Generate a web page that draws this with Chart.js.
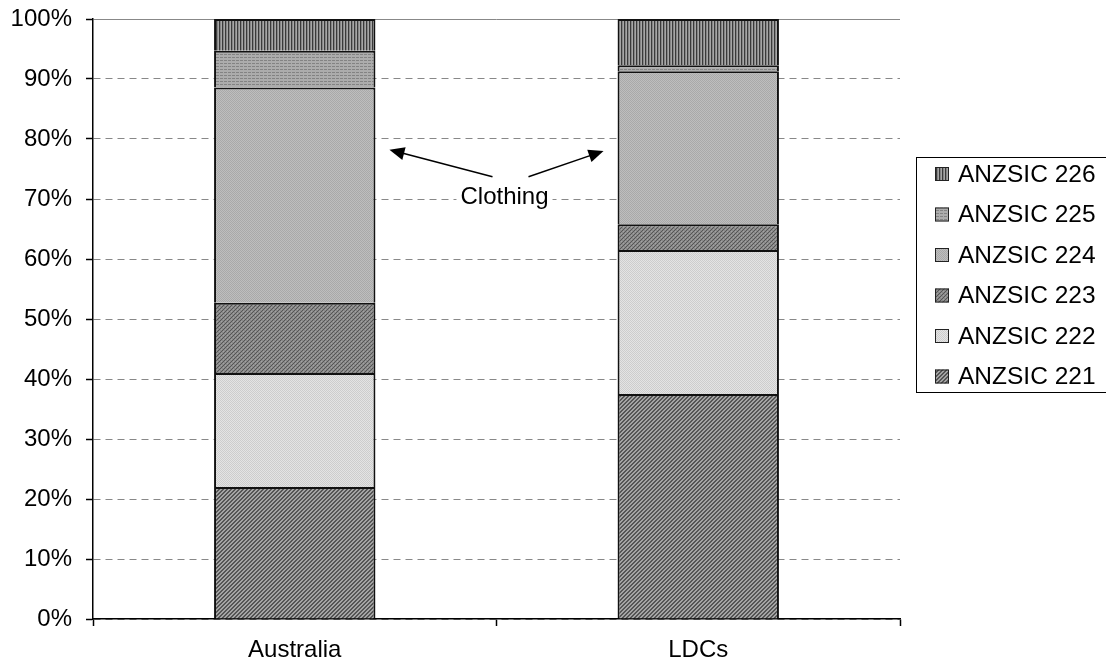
<!DOCTYPE html>
<html>
<head>
<meta charset="utf-8">
<script src="https://cdn.jsdelivr.net/npm/chart.js@4/dist/chart.umd.min.js"></script>
<style>
  html, body { margin: 0; padding: 0; background: #fff; }
  canvas { display: block; }
</style>
</head>
<body>
<canvas id="shareChart" width="1106" height="667"></canvas>
<script>
// data (share of output, %)
const categories = ["Australia", "LDCs"];
const seriesLabels = ["ANZSIC 221", "ANZSIC 222", "ANZSIC 223", "ANZSIC 224", "ANZSIC 225", "ANZSIC 226"];
const anzsic221 = [22.0, 37.5];
const anzsic222 = [19.0, 24.0];
const anzsic223 = [11.7, 4.3];
const anzsic224 = [35.9, 25.5];
const anzsic225 = [6.1, 1.0];
const anzsic226 = [5.3, 7.7];
const yMin = 0, yMax = 100, yStep = 10;
const noteText = "Clothing";
const noteValue = 78; // where the arrows point

const FONT = "'Liberation Sans', Arial, sans-serif";

function makePattern(w, h, paint) {
    const c = document.createElement("canvas");
    c.width = w;
    c.height = h;
    const g = c.getContext("2d");
    paint(g);
    return g.createPattern(c, "repeat");
}

// grey fill patterns like the old excel ones
const patterns = [
    makePattern(4, 4, g => { // 221 diagonal
        g.fillStyle = "#a4a4a4"; g.fillRect(0, 0, 4, 4);
        g.fillStyle = "#555";
        for (let i = 0; i < 4; i++) { g.fillRect(i, 3 - i, 1, 1); g.fillRect(i, (4 - i) % 4, 1, 1); }
    }),
    makePattern(2, 2, g => { // 222 light dots
        g.fillStyle = "#e4e4e4"; g.fillRect(0, 0, 2, 2);
        g.fillStyle = "#cdcdcd"; g.fillRect(0, 0, 1, 1); g.fillRect(1, 1, 1, 1);
    }),
    makePattern(4, 4, g => { // 223 dark weave
        g.fillStyle = "#8a8a8a"; g.fillRect(0, 0, 4, 4);
        g.fillStyle = "#555";
        g.fillRect(0, 0, 1, 1); g.fillRect(2, 2, 1, 1); g.fillRect(1, 3, 1, 1); g.fillRect(3, 1, 1, 1);
        g.fillStyle = "#a2a2a2"; g.fillRect(1, 1, 1, 1); g.fillRect(3, 3, 1, 1);
    }),
    makePattern(2, 2, g => { // 224 grey dots
        g.fillStyle = "#bebebe"; g.fillRect(0, 0, 2, 2);
        g.fillStyle = "#a9a9a9"; g.fillRect(0, 0, 1, 1); g.fillRect(1, 1, 1, 1);
    }),
    makePattern(4, 3, g => { // 225 horizontal dashes
        g.fillStyle = "#acacac"; g.fillRect(0, 0, 4, 3);
        g.fillStyle = "#838383"; g.fillRect(0, 0, 3, 1);
    }),
    makePattern(3, 1, g => { // 226 vertical stripes
        g.fillStyle = "#a6a6a6"; g.fillRect(0, 0, 3, 1);
        g.fillStyle = "#3a3a3a"; g.fillRect(0, 0, 1, 1);
        g.fillStyle = "#858585"; g.fillRect(1, 0, 1, 1);
    })
];

const seriesValues = [anzsic221, anzsic222, anzsic223, anzsic224, anzsic225, anzsic226];
const datasets = seriesLabels.map((label, i) => ({
    label: label,
    data: seriesValues[i],
    backgroundColor: patterns[i],
    borderColor: "#111",
    borderWidth: 2,
    borderSkipped: "start",
    barPercentage: 0.4,
    categoryPercentage: 1.0
}));

// legend box on the right, top entry = last series
const boxLegend = {
    id: "boxLegend",
    afterDraw(chart) {
        const ctx = chart.ctx;
        const area = chart.chartArea;
        const left = area.right + 16;
        const top = 157, bottom = 392;
        ctx.save();
        ctx.fillStyle = "#fff";
        ctx.fillRect(left, top, chart.width - left + 10, bottom - top);
        ctx.strokeStyle = "#000";
        ctx.lineWidth = 1;
        ctx.strokeRect(left + 0.5, top + 0.5, chart.width - left + 10, bottom - top);
        ctx.font = "24.5px " + FONT;
        ctx.textBaseline = "middle";
        ctx.textAlign = "left";
        const items = chart.data.datasets.slice().reverse();
        items.forEach((ds, i) => {
            const cy = 174 + i * 40.5;
            ctx.fillStyle = ds.backgroundColor;
            ctx.fillRect(left + 19, cy - 7, 14, 14);
            ctx.strokeStyle = "#222";
            ctx.lineWidth = 1;
            ctx.strokeRect(left + 19.5, cy - 6.5, 13, 13);
            ctx.fillStyle = "#000";
            ctx.fillText(ds.label, left + 42, cy + 1);
        });
        ctx.restore();
    }
};

function arrow(ctx, x1, y1, x2, y2) {
    const ang = Math.atan2(y2 - y1, x2 - x1);
    const len = 15, half = 6.5;
    ctx.beginPath();
    ctx.moveTo(x1, y1);
    ctx.lineTo(x2 - Math.cos(ang) * len * 0.8, y2 - Math.sin(ang) * len * 0.8);
    ctx.stroke();
    ctx.beginPath();
    ctx.moveTo(x2, y2);
    ctx.lineTo(x2 - Math.cos(ang) * len + Math.sin(ang) * half, y2 - Math.sin(ang) * len - Math.cos(ang) * half);
    ctx.lineTo(x2 - Math.cos(ang) * len - Math.sin(ang) * half, y2 - Math.sin(ang) * len + Math.cos(ang) * half);
    ctx.closePath();
    ctx.fill();
}

// "Clothing" note with two arrows, placed from the scales
const clothingNote = {
    id: "clothingNote",
    afterDatasetsDraw(chart) {
        const ctx = chart.ctx;
        const x = chart.scales.x, y = chart.scales.y;
        const barA = chart.getDatasetMeta(3).data[0];
        const barB = chart.getDatasetMeta(3).data[1];
        const cx = x.getPixelForValue(0.5) + 8;
        const textY = y.getPixelForValue(69.2);
        const tailY = y.getPixelForValue(73.7);
        ctx.save();
        ctx.font = "24px " + FONT;
        const w = ctx.measureText(noteText).width;
        ctx.fillStyle = "#fff";
        ctx.fillRect(cx - w / 2 - 4, textY - 19, w + 8, 24);
        ctx.fillStyle = "#000";
        ctx.textAlign = "center";
        ctx.textBaseline = "alphabetic";
        ctx.fillText(noteText, cx, textY);
        ctx.strokeStyle = "#000";
        ctx.lineWidth = 1.5;
        arrow(ctx, cx - 12, tailY, barA.x + barA.width / 2 + 14, y.getPixelForValue(noteValue + 0.2));
        arrow(ctx, cx + 24, tailY, barB.x - barB.width / 2 - 14, y.getPixelForValue(noteValue));
        ctx.restore();
    }
};

new Chart(document.getElementById("shareChart").getContext("2d"), {
    type: "bar",
    data: { labels: categories, datasets: datasets },
    options: {
        responsive: false,
        animation: false,
        devicePixelRatio: 1,
        layout: { padding: { top: 19, right: 206, bottom: 0, left: 0 } },
        plugins: {
            legend: { display: false },
            tooltip: { enabled: false }
        },
        scales: {
            x: {
                stacked: true,
                grid: { display: true, drawOnChartArea: false, offset: true, tickLength: 7, tickColor: "#000", tickWidth: 1.5 },
                border: { display: true, color: "#000", width: 1.5 },
                ticks: { color: "#000", font: { family: FONT, size: 24 }, padding: 10 },
                afterFit: scale => { scale.height = 48; }
            },
            y: {
                stacked: true,
                min: yMin,
                max: yMax,
                grid: {
                    color: "#888",
                    lineWidth: 1,
                    tickLength: 7,
                    tickColor: "#000",
                    tickWidth: 1.5,
                    tickBorderDash: []
                },
                border: {
                    display: true, color: "#000", width: 1.5,
                    dash: ctx => (ctx.tick && ctx.tick.value === yMax) ? [] : [7, 5]
                },
                ticks: {
                    stepSize: yStep,
                    color: "#000",
                    font: { family: FONT, size: 24 },
                    padding: 14,
                    callback: v => v + "%"
                },
                afterFit: scale => {
                    scale.width = 93;
                    scale.paddingTop = 0;
                    scale.paddingBottom = 0;
                }
            }
        }
    },
    plugins: [clothingNote, boxLegend]
});
</script>
</body>
</html>
